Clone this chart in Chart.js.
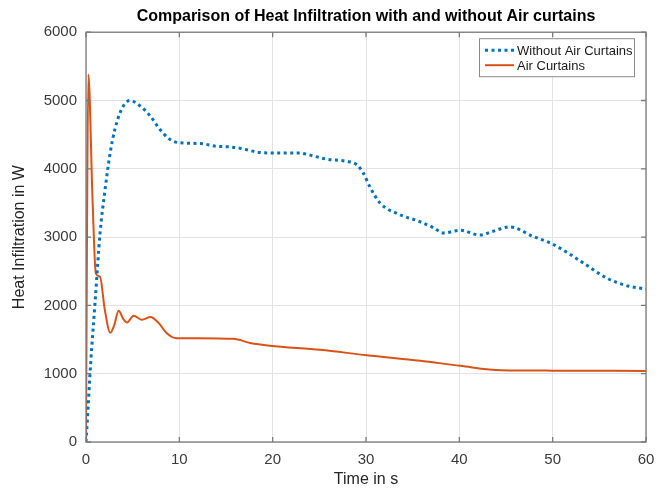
<!DOCTYPE html>
<html>
<head>
<meta charset="utf-8">
<script src="https://cdn.jsdelivr.net/npm/chart.js@4/dist/chart.umd.min.js"></script>
<style>
  html, body { margin: 0; padding: 0; background: #fff; }
  #wrap { width: 671px; height: 488px; }
</style>
</head>
<body>
<div id="wrap"><canvas id="heatChart" width="671" height="488"></canvas></div>
<script>
// time (s) and heat infiltration (W) without air curtains
const timeNoCurtain = [0, 0.2, 0.5, 1.0, 1.5, 2.0, 2.6, 3.1, 3.8, 4.7, 5.8, 6.9, 7.9, 9.0, 10.1, 12.2, 14.0,
  15.4, 16.5, 18.6, 20.5, 22.9, 24.0, 25.8, 27.9, 29.0, 29.7, 30.4, 31.5, 33.6, 35.5, 37.2, 38.3, 40.1,
  42.2, 43.5, 45.4, 47.9, 50.1, 53.3, 55.8, 57.9, 60];
const heatNoCurtain = [0, 450, 1150, 2100, 3050, 3650, 4240, 4580, 4870, 5000, 4920, 4770, 4580, 4430, 4380, 4370, 4330,
  4320, 4300, 4240, 4230, 4230, 4200, 4140, 4110, 4060, 3940, 3740, 3500, 3330, 3240, 3140, 3060, 3100,
  3030, 3080, 3150, 3010, 2890, 2620, 2400, 2290, 2240];

// time (s) and heat infiltration (W) with air curtains
const timeCurtain = [0, 0.1, 0.25, 0.7, 1.05, 1.5, 2.0, 2.6, 3.0, 3.5, 4.0, 4.4, 5.1, 6.0, 6.9, 7.8, 8.6, 9.7,
  12.0, 15.8, 17.6, 19.7, 25.1, 30.1, 35.8, 40.1, 44.5, 50, 60];
const heatCurtain = [0, 2800, 5380, 3550, 2470, 2420, 1950, 1600, 1700, 1920, 1800, 1750, 1850, 1790, 1830, 1740, 1600, 1520,
  1520, 1510, 1450, 1410, 1350, 1270, 1190, 1115, 1050, 1045, 1040];

const xTicks = [0, 10, 20, 30, 40, 50, 60];
const yTicks = [0, 1000, 2000, 3000, 4000, 5000, 6000];

const seriesNames = ["Without Air Curtains", "Air Curtains"];
const blue = "#0072BD";
const orange = "#D95319";
const fontFamily = "'Liberation Sans', Arial, sans-serif";

function toPoints(xs, ys) {
  return xs.map((x, i) => ({ x: x, y: ys[i] }));
}

// MATLAB-like box around the axes with inward tick marks
const axesBox = {
  id: "axesBox",
  afterDatasetsDraw(chart) {
    const { ctx, chartArea: a, scales } = chart;
    ctx.save();
    ctx.strokeStyle = "#7a7a7a";
    ctx.lineWidth = 1.3;
    ctx.strokeRect(a.left, a.top, a.right - a.left, a.bottom - a.top);
    ctx.beginPath();
    const len = 5;
    xTicks.forEach((v) => {
      const px = scales.x.getPixelForValue(v);
      ctx.moveTo(px, a.bottom); ctx.lineTo(px, a.bottom - len);
      ctx.moveTo(px, a.top); ctx.lineTo(px, a.top + len);
    });
    yTicks.forEach((v) => {
      const py = scales.y.getPixelForValue(v);
      ctx.moveTo(a.left, py); ctx.lineTo(a.left + len, py);
      ctx.moveTo(a.right, py); ctx.lineTo(a.right - len, py);
    });
    ctx.stroke();
    ctx.restore();
  },
};

// boxed legend in the upper right corner of the plot
const insideLegend = {
  id: "insideLegend",
  afterDraw(chart) {
    const { ctx, chartArea: a } = chart;
    const w = 155, h = 38;
    const x0 = a.right - 12 - w, y0 = a.top + 6;
    ctx.save();
    ctx.fillStyle = "#fff";
    ctx.fillRect(x0, y0, w, h);
    ctx.strokeStyle = "#8a8a8a";
    ctx.lineWidth = 1;
    ctx.strokeRect(x0 + 0.5, y0 + 0.5, w, h);
    ctx.font = "13px " + fontFamily;
    ctx.textBaseline = "middle";
    chart.data.datasets.forEach((ds, i) => {
      const cy = y0 + 12 + i * 15;
      ctx.beginPath();
      ctx.strokeStyle = ds.borderColor;
      ctx.lineWidth = ds.borderWidth;
      ctx.setLineDash(ds.borderDash || []);
      ctx.moveTo(x0 + 6, cy);
      ctx.lineTo(x0 + 35, cy);
      ctx.stroke();
      ctx.setLineDash([]);
      ctx.fillStyle = "#1a1a1a";
      ctx.fillText(ds.label, x0 + 38, cy + 1);
    });
    ctx.restore();
  },
};

const ctx = document.getElementById("heatChart").getContext("2d");

new Chart(ctx, {
  type: "line",
  data: {
    datasets: [
      {
        label: seriesNames[0],
        data: toPoints(timeNoCurtain, heatNoCurtain),
        borderColor: blue,
        borderWidth: 3,
        borderDash: [3, 3.5],
        pointRadius: 0,
        cubicInterpolationMode: "monotone",
        fill: false,
      },
      {
        label: seriesNames[1],
        data: toPoints(timeCurtain, heatCurtain),
        borderColor: orange,
        borderWidth: 2,
        pointRadius: 0,
        cubicInterpolationMode: "monotone",
        fill: false,
      },
    ],
  },
  options: {
    responsive: false,
    animation: false,
    layout: { padding: { left: 0, right: 25, top: 0, bottom: 0 } },
    plugins: {
      legend: { display: false },
      tooltip: { enabled: false },
      title: {
        display: true,
        fullSize: false,
        text: "Comparison of Heat Infiltration with and without Air curtains",
        color: "#000",
        font: { family: fontFamily, size: 16, weight: "bold", lineHeight: 1.2 },
        padding: { top: 7, bottom: 6 },
      },
    },
    scales: {
      x: {
        type: "linear",
        min: 0,
        max: 60,
        afterBuildTicks(scale) {
          scale.ticks = xTicks.map((v) => ({ value: v }));
        },
        afterFit(scale) { scale.height = 46; },
        ticks: {
          color: "#3a3a3a",
          font: { family: fontFamily, size: 15 },
          padding: 9,
          maxRotation: 0,
          callback: (v) => String(v),
        },
        grid: { color: "#e3e3e3", drawTicks: false },
        border: { display: false },
        title: {
          display: true,
          text: "Time in s",
          color: "#262626",
          font: { family: fontFamily, size: 16, lineHeight: 1 },
          padding: { top: 0, bottom: 0 },
        },
      },
      y: {
        min: 0,
        max: 6000,
        afterBuildTicks(scale) {
          scale.ticks = yTicks.map((v) => ({ value: v }));
        },
        afterFit(scale) { scale.width = 86; },
        ticks: {
          color: "#3a3a3a",
          font: { family: fontFamily, size: 15 },
          padding: 9,
          callback: (v) => String(v),
        },
        grid: { color: "#e3e3e3", drawTicks: false },
        border: { display: false },
        title: {
          display: true,
          text: "Heat Infiltration in W",
          color: "#262626",
          font: { family: fontFamily, size: 16, lineHeight: 1 },
          padding: { top: 12, bottom: 0 },
        },
      },
    },
  },
  plugins: [axesBox, insideLegend],
});
</script>
</body>
</html>
